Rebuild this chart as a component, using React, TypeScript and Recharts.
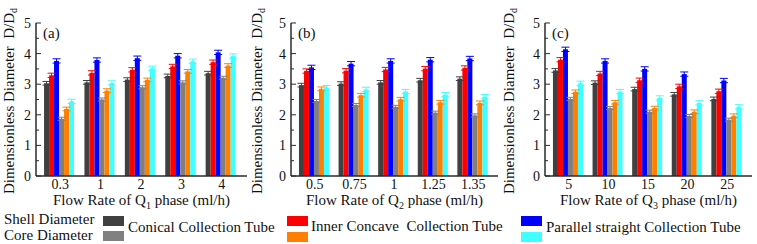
import { BarChart, Bar, XAxis, YAxis, ErrorBar } from 'recharts'

const FONT = '"Liberation Serif", "Times New Roman", serif'
const FRAME = '#2b2b2b'

// bar order inside every group
const seriesColors = ['#404040', '#ff0000', '#0000ff', '#808080', '#ff8000', '#40ffff']
const yTicks = [0, 0.5, 1, 1.5, 2, 2.5, 3, 3.5, 4, 4.5, 5]

// (a) flow rate of Q1
const q1Rates = ['0.3', '1', '2', '3', '4']
const q1ShellConical = [3.03, 3.06, 3.15, 3.27, 3.36]
const q1ShellConcave = [3.29, 3.37, 3.47, 3.58, 3.72]
const q1ShellParallel = [3.76, 3.79, 3.85, 3.93, 4.04]
const q1CoreConical = [1.87, 2.5, 2.9, 3.06, 3.21]
const q1CoreConcave = [2.19, 2.79, 3.14, 3.42, 3.61]
const q1CoreParallel = [2.44, 3.04, 3.52, 3.75, 3.92]
const q1Err = [0.06, 0.07, 0.07, 0.05, 0.06, 0.07]

// (b) flow rate of Q2
const q2Rates = ['0.5', '0.75', '1', '1.25', '1.35']
const q2ShellConical = [2.97, 3.02, 3.06, 3.13, 3.18]
const q2ShellConcave = [3.43, 3.44, 3.48, 3.51, 3.53]
const q2ShellParallel = [3.55, 3.67, 3.76, 3.8, 3.84]
const q2CoreConical = [2.45, 2.32, 2.26, 2.07, 1.98]
const q2CoreConcave = [2.85, 2.64, 2.51, 2.41, 2.39]
const q2CoreParallel = [2.89, 2.83, 2.76, 2.66, 2.59]
const q2Err = [0.06, 0.07, 0.07, 0.05, 0.06, 0.07]

// (c) flow rate of Q3
const q3Rates = ['5', '10', '15', '20', '25']
const q3ShellConical = [3.45, 3.05, 2.84, 2.67, 2.52]
const q3ShellConcave = [3.8, 3.35, 3.13, 2.93, 2.77]
const q3ShellParallel = [4.14, 3.76, 3.5, 3.33, 3.12]
const q3CoreConical = [2.52, 2.22, 2.1, 1.96, 1.84]
const q3CoreConcave = [2.75, 2.41, 2.22, 2.1, 1.97]
const q3CoreParallel = [3.03, 2.76, 2.55, 2.39, 2.26]
const q3Err = [0.06, 0.07, 0.07, 0.05, 0.06, 0.07]

function YTick(props: any) {
  const { x, y, payload } = props
  const major = Number.isInteger(payload.value)
  return (
    <g>
      <line x1={x} x2={x + (major ? 5 : 3)} y1={y} y2={y} stroke={FRAME} strokeWidth={1} />
      {major && (
        <text x={x - 5} y={y} dy="0.35em" textAnchor="end" fontSize={14} fontFamily={FONT} fill="#111">
          {payload.value}
        </text>
      )}
    </g>
  )
}

type PanelProps = {
  left: number
  width: number
  axisWidth: number
  rightMargin: number
  rates: string[]
  series: number[][]
  err: number[]
  tag: string
  sub: string
}

function Panel({ left, width, axisWidth, rightMargin, rates, series, err, tag, sub }: PanelProps) {
  const rows = rates.map((rate, i) => {
    const row: Record<string, any> = { rate }
    series.forEach((s, k) => {
      row['v' + k] = s[i]
      row['e' + k] = err[k]
    })
    return row
  })
  const plotLeft = left + axisWidth
  const plotWidth = width - axisWidth - rightMargin
  return (
    <>
      <div style={{ position: 'absolute', left, top: 0 }}>
        <BarChart
          width={width}
          height={196}
          data={rows}
          margin={{ top: 23, right: rightMargin, bottom: 0, left: 0 }}
          barCategoryGap="10%"
          barGap={0}
        >
          <XAxis
            dataKey="rate"
            height={20}
            padding={{ left: 4, right: 5 }}
            tickLine={false}
            tickSize={0}
            tickMargin={3}
            interval={0}
            axisLine={{ stroke: FRAME, strokeWidth: 1.5 }}
            tick={{ fontSize: 14, fontFamily: FONT, fill: '#111' }}
          />
          <XAxis
            xAxisId="top"
            orientation="top"
            dataKey="rate"
            height={0}
            tick={false}
            tickLine={false}
            axisLine={{ stroke: FRAME, strokeWidth: 1.5 }}
          />
          <YAxis
            domain={[0, 5]}
            ticks={yTicks}
            interval={0}
            width={axisWidth}
            tickSize={0}
            tickMargin={0}
            tickLine={false}
            tick={YTick}
            axisLine={{ stroke: FRAME, strokeWidth: 1.5 }}
          />
          <YAxis
            yAxisId="right"
            orientation="right"
            domain={[0, 5]}
            width={0}
            tick={false}
            tickLine={false}
            axisLine={{ stroke: FRAME, strokeWidth: 1.5 }}
          />
          {seriesColors.map((c, k) => (
            <Bar key={k} dataKey={'v' + k} fill={c} isAnimationActive={false}>
              <ErrorBar dataKey={'e' + k} width={4} stroke={c} strokeWidth={1} direction="y" />
            </Bar>
          ))}
        </BarChart>
      </div>
      <div style={{ position: 'absolute', left: plotLeft + 7, top: 27, fontSize: 15, lineHeight: '13px' }}>{tag}</div>
      <div
        style={{
          position: 'absolute',
          left: plotLeft,
          width: plotWidth,
          top: 194,
          textAlign: 'center',
          fontSize: 15,
          lineHeight: '12px',
          whiteSpace: 'nowrap',
        }}
      >
        Flow Rate of Q<sub style={{ fontSize: 10, lineHeight: 0 }}>{sub}</sub> phase (ml/h)
      </div>
    </>
  )
}

const swatch = (left: number, top: number, color: string) => (
  <div style={{ position: 'absolute', left, top, width: 21, height: 10, background: color }} />
)

const text = (left: number, top: number, value: string) => (
  <div style={{ position: 'absolute', left, top, fontSize: 15, lineHeight: '13px', whiteSpace: 'pre' }}>{value}</div>
)

const yLabelX = [14, 262, 514]

export default function App() {
  return (
    <div
      style={{
        position: 'absolute',
        left: 0,
        top: 0,
        width: 757,
        height: 244,
        background: '#fff',
        fontFamily: FONT,
        color: '#111',
        overflow: 'hidden',
      }}
    >
      <Panel
        left={0}
        width={250}
        axisWidth={36}
        rightMargin={3}
        rates={q1Rates}
        series={[q1ShellConical, q1ShellConcave, q1ShellParallel, q1CoreConical, q1CoreConcave, q1CoreParallel]}
        err={q1Err}
        tag="(a)"
        sub="1"
      />
      <Panel
        left={250}
        width={250}
        axisWidth={41}
        rightMargin={2}
        rates={q2Rates}
        series={[q2ShellConical, q2ShellConcave, q2ShellParallel, q2CoreConical, q2CoreConcave, q2CoreParallel]}
        err={q2Err}
        tag="(b)"
        sub="2"
      />
      <Panel
        left={500}
        width={257}
        axisWidth={45}
        rightMargin={5}
        rates={q3Rates}
        series={[q3ShellConical, q3ShellConcave, q3ShellParallel, q3CoreConical, q3CoreConcave, q3CoreParallel]}
        err={q3Err}
        tag="(c)"
        sub="3"
      />

      <svg width={757} height={244} style={{ position: 'absolute', left: 0, top: 0, pointerEvents: 'none' }}>
        {yLabelX.map((x) => (
          <text
            key={x}
            transform={`translate(${x},101) rotate(-90)`}
            textAnchor="middle"
            fontSize={15}
            fontFamily={FONT}
            fill="#111"
          >
            Dimensionless Diameter{'\u00a0\u00a0'}D/D
            <tspan fontSize={10} dy={3}>d</tspan>
          </text>
        ))}
      </svg>

      {text(4, 213, 'Shell Diameter')}
      {text(4, 229, 'Core Diameter')}
      {swatch(103, 216, seriesColors[0])}
      {swatch(103, 231, seriesColors[3])}
      {text(128, 221, 'Conical Collection Tube')}
      {swatch(287, 216, seriesColors[1])}
      {swatch(287, 232, seriesColors[4])}
      {text(311, 220, 'Inner Concave  Collection Tube')}
      {swatch(521, 216, seriesColors[2])}
      {swatch(521, 232, seriesColors[5])}
      {text(546, 221, 'Parallel straight Collection Tube')}
    </div>
  )
}
